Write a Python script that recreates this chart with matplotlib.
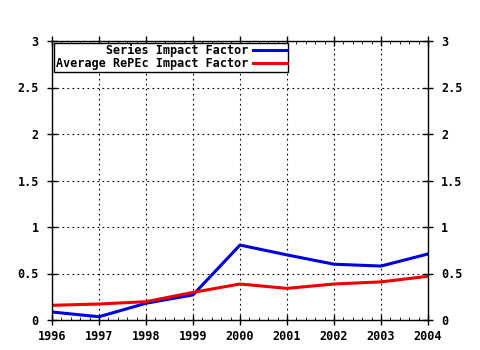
import matplotlib
matplotlib.use("Agg")
import matplotlib.pyplot as plt
from matplotlib.ticker import MultipleLocator

years = [1996, 1997, 1998, 1999, 2000, 2001, 2002, 2003, 2004]
series_if = [0.086, 0.035, 0.18, 0.27, 0.806, 0.70, 0.60, 0.58, 0.71]
repec_if = [0.158, 0.172, 0.197, 0.297, 0.387, 0.34, 0.387, 0.41, 0.47]
labels = ["       Series Impact Factor", "Average RePEc Impact Factor"]

plt.rcParams["font.family"] = "DejaVu Sans Mono"
plt.rcParams["font.weight"] = "bold"

fig = plt.figure(figsize=(4.8, 3.5), dpi=100)
ax = fig.add_axes([52 / 480, 1 - 320 / 350, 376 / 480, 279 / 350])

ax.plot(years, series_if, color="#0000dd", linewidth=2.2, label=labels[0])
ax.plot(years, repec_if, color="#ee0000", linewidth=2.2, label=labels[1])

ax.set_xlim(1996, 2004)
ax.set_ylim(0, 3)
ax.xaxis.set_major_locator(MultipleLocator(1))
ax.xaxis.set_minor_locator(MultipleLocator(0.2))
ax.yaxis.set_major_locator(MultipleLocator(0.5))
ax.yaxis.set_major_formatter(lambda v, p: f"{v:g}")
ax.xaxis.set_major_formatter(lambda v, p: f"{int(v)}")

ax.grid(True, which="major", linestyle=(0, (1.5, 3)), color="black", linewidth=0.8)
ax.tick_params(axis="both", which="major", direction="inout", length=7,
               labelsize=8.5, width=1, top=True, right=True, labelright=True)
ax.tick_params(axis="x", which="minor", direction="in", length=2,
               top=True, bottom=True)
ax.tick_params(axis="x", pad=4)
ax.tick_params(axis="y", pad=6)
for lab in ax.get_xticklabels() + ax.get_yticklabels():
    lab.set_fontweight("bold")
for s in ax.spines.values():
    s.set_linewidth(1)

leg = ax.legend(loc="upper left", bbox_to_anchor=(0.006, 0.993),
                markerfirst=False, fancybox=False, framealpha=1,
                edgecolor="black", fontsize=8.5, handlelength=2.9,
                handletextpad=0.4, borderpad=0.12, labelspacing=0.0,
                borderaxespad=0)
leg.get_frame().set_linewidth(1)
for t in leg.get_texts():
    t.set_fontweight("bold")

fig.savefig("out.png", dpi=100)
